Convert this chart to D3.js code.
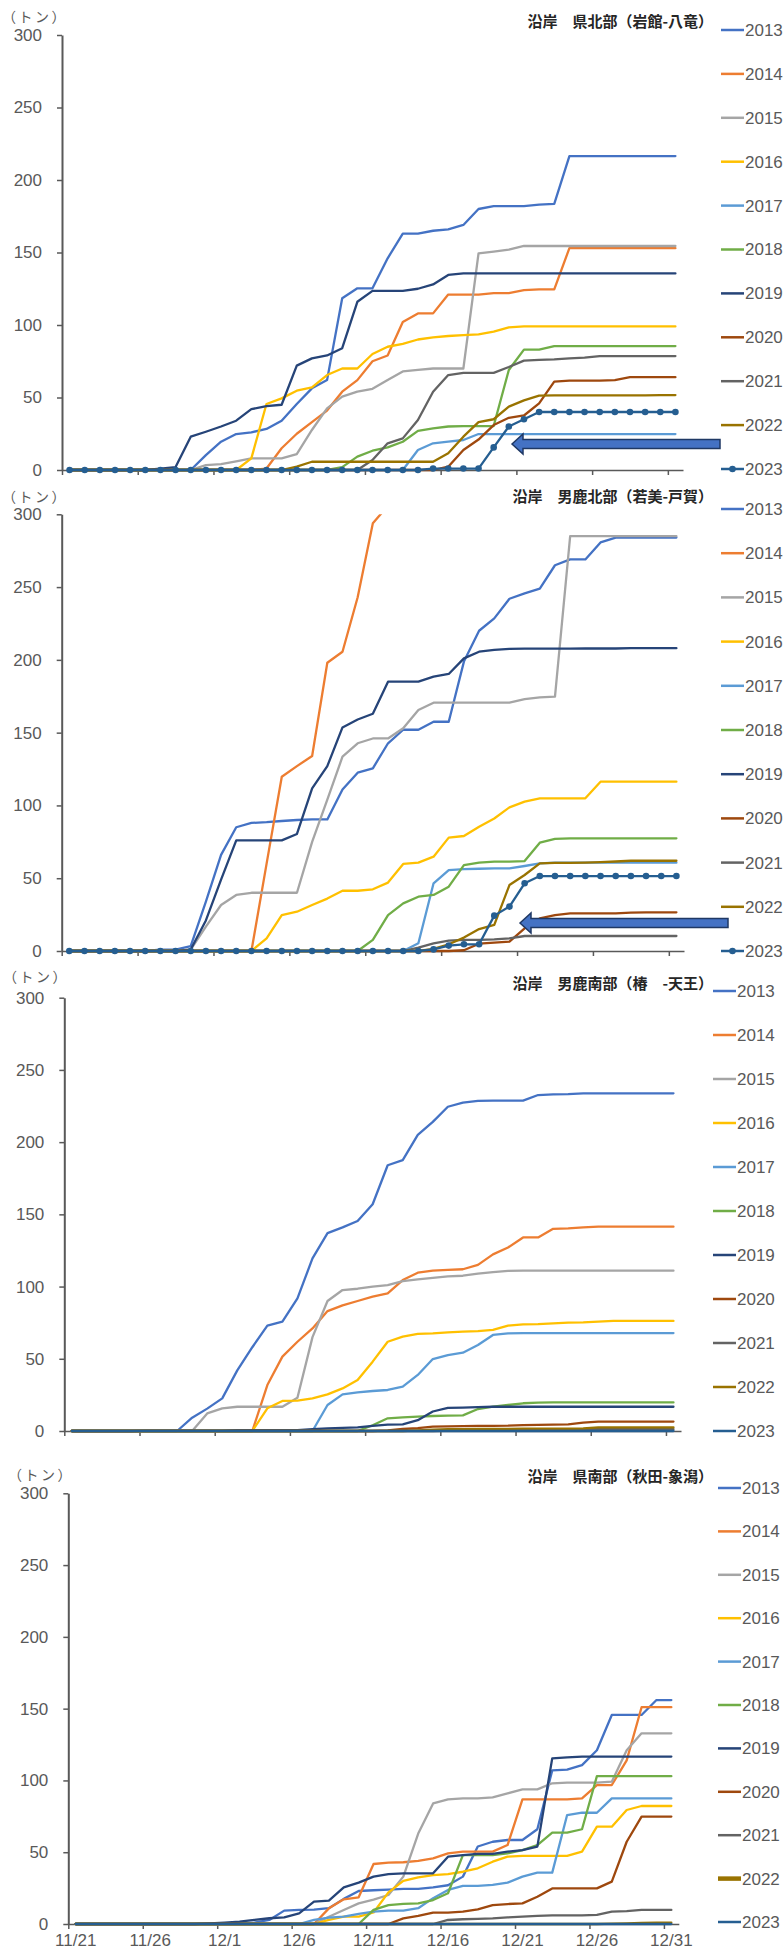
<!DOCTYPE html>
<html>
<head>
<meta charset="utf-8">
<script src="https://cdn.jsdelivr.net/npm/d3@7"></script>
<style>
html, body { margin: 0; padding: 0; background: #fff; }
svg { display: block; }
</style>
</head>
<body>
<svg id="chart" width="783" height="1951"></svg>
<script>
// Daily dates on the category axis (11/21 .. 12/31)
const dates = [
  "11/21","11/22","11/23","11/24","11/25","11/26","11/27","11/28","11/29","11/30",
  "12/1","12/2","12/3","12/4","12/5","12/6","12/7","12/8","12/9","12/10",
  "12/11","12/12","12/13","12/14","12/15","12/16","12/17","12/18","12/19","12/20",
  "12/21","12/22","12/23","12/24","12/25","12/26","12/27","12/28","12/29","12/30",
  "12/31"
];
const dateLabels = ["11/21","11/26","12/1","12/6","12/11","12/16","12/21","12/26","12/31"];
const years = ["2013","2014","2015","2016","2017","2018","2019","2020","2021","2022","2023"];
const yTicks = [0, 50, 100, 150, 200, 250, 300];

// Cumulative catch (t), one row per season 2013..2023
const kenHokubu = [
  [0,0,0,0,0,0,0,0,0,10.3, 19.5,24.8,26,28.3,34,45.5,56.3,62,118.4,125.3, 125.3,146,163,163,165,166,169,180,182,182, 182,183,183.5,216.5,216.5,216.5,216.5,216.5,216.5,216.5, 216.5],
  [0,0,0,0,0,0,0,0,0,0, 0,0,0,1,15,25,33,41,54,62, 75,79,102,108,108,121,121,121,122,122, 124,124.6,124.6,153,153,153,153,153,153,153, 153],
  [0,0,0,0,0,0,0,0,0,3.4, 4,6,8,8,8,11,27.6,42.5,50.6,54, 56,62,68,69,70,70,70,149.4,150.6,152, 154.5,154.5,154.5,154.5,154.5,154.5,154.5,154.5,154.5,154.5, 154.5],
  [0,0,0,0,0,0,0,0,0,0, 0,0,8,45.5,49.4,54.7,57,65.5,70,70, 80,85,87,90,91.5,92.4,93,93.6,95.4,98.4, 99,99,99,99,99,99,99,99,99,99, 99],
  [0,0,0,0,0,0,0,0,0,0, 0,0,0,0,0,0,0,0,0,0, 0,0,0,13.8,18.4,19.5,20.7,24.8,24.8,24.8, 24.8,24.8,24.8,24.8,24.8,24.8,24.8,24.8,24.8,24.8, 24.8],
  [0,0,0,0,0,0,0,0,0,0, 0,0,0,0,0,0,0,0,2,9.2, 13.3,15.6,19.5,27,28.7,30,30.3,30.3,30.3,69, 83,83,85.5,85.5,85.5,85.5,85.5,85.5,85.5,85.5, 85.5],
  [0,0,0,0,0,0,1,2,23,26.4, 30,34,42,44,45,72,77,79,84,116, 123.5,123.5,123.5,125,128,134.5,135.6,135.6,135.6,135.6, 135.6,135.6,135.6,135.6,135.6,135.6,135.6,135.6,135.6,135.6, 135.6],
  [0,0,0,0,0,0,0,0,0,0, 0,0,0,0,0,0,0,0,0,0, 0,0,0,0,0,2.3,13.8,21,31,36, 37.6,46,61,61.6,61.6,61.6,62,64,64,64, 64],
  [0,0,0,0,0,0,0,0,0,0, 0,0,0,0,0,0,0,0,0,0, 6.9,18.4,21.8,34.5,54,65.5,67,67,67,71, 75.4,76,76.3,77,77.5,78.6,78.6,78.6,78.6,78.6, 78.6],
  [0,0,0,0,0,0,0,0,0,0, 0,0,0,0,0,2.3,5.7,5.7,5.7,5.7, 5.7,5.7,5.7,5.7,5.7,11.5,23,33,35,43.7, 48,51.3,51.5,51.5,51.5,51.5,51.5,51.5,51.5,51.7, 51.7],
  [0,0,0,0,0,0,0,0,0,0, 0,0,0,0,0,0,0,0,0,0, 0,0,0,0,1,1,1,1,15.6,30, 35,40,40,40,40,40,40,40,40,40, 40]
];

const ogaHokubu = [
  [0,0,0,0,0,0,1,1,3.4,34, 66,85,88,88.5,89.3,90,90.4,90.4,111,122.5, 125.5,142.7,152,152,157.5,157.5,198.8,220,228.5,242, 245.7,249,265,269,269,280.7,284,284,284,284, 284],
  [0,0,0,0,0,0,0,0,0,0, 0,0,0,60,119.7,127,134,198,205.6,243, 293.8,306,null,null,null,null,null,null,null,null, null,null,null,null,null,null,null,null,null,null, null],
  [0,0,0,0,0,0,0,0,1,16.7, 31.6,38.5,40,40,40,40,75,104,133.5,142.7, 146,146,153,165.6,170.6,170.6,170.6,170.6,170.6,170.6, 173,174.3,174.7,285,285,285,285,285,285,285, 285],
  [0,0,0,0,0,0,0,0,0,0, 0,0,0,8.7,24.7,27,31.6,36,41.4,41.4, 42.4,47,59.8,60.7,64.8,77.9,79,85.4,91,98.7, 102.6,104.9,104.9,104.9,104.9,116.3,116.3,116.3,116.3,116.3, 116.3],
  [0,0,0,0,0,0,0,0,0,0, 0,0,0,0,0,0,0,0,0,0, 0,0,0,5.3,46.5,55.6,56.3,56.5,56.8,56.8, 58.4,60.2,60.7,60.7,60.7,60.7,60.7,60.7,60.7,60.7, 60.7],
  [0,0,0,0,0,0,0,0,0,0, 0,0,0,0,0,0,0,0,0,0, 7.6,24.7,32.7,37.3,38.5,44.2,59,60.7,61.4,61.4, 61.8,74.4,77,77.4,77.4,77.4,77.4,77.4,77.4,77.4, 77.4],
  [0,0,0,0,0,0,0,0,1,21, 49,76,76,76,76,80.4,111.7,127,153.6,159, 163,185,185,185,188.5,190.3,201,205.6,206.8,207.5, 207.7,207.7,207.7,207.7,207.8,207.8,207.8,208,208,208, 208],
  [0,0,0,0,0,0,0,0,0,0, 0,0,0,0,0,0,0,0,0,0, 0,0,0,0,0,0,0.5,5,5.7,6.4, 15.6,22.4,24.7,25.9,25.9,25.9,25.9,26.3,26.6,26.6, 26.6],
  [0,0,0,0,0,0,0,0,0,0, 0,0,0,0,0,0,0,0,0,0, 0,0,0,2.3,5.3,7.1,7.6,7.6,8,8.7, 10.3,10.3,10.3,10.3,10.3,10.3,10.3,10.3,10.3,10.3, 10.3],
  [0,0,0,0,0,0,0,0,0,0, 0,0,0,0,0,0,0,0,0,0, 0,0,0,0,1.4,4.6,9.2,15.1,17.9,45.3, 52.2,60.2,60.5,60.5,60.7,61,61.5,62,62,62, 62],
  [0,0,0,0,0,0,0,0,0,0, 0,0,0,0,0,0,0,0,0,0, 0,0,0,0,1.1,3.7,4.6,4.6,24.3,30.5, 46.5,51.5,51.5,51.5,51.5,51.5,51.5,51.5,51.5,51.5, 51.5]
];

const ogaNanbu = [
  [0,0,0,0,0,0,0,0,9.2,15.5, 22.6,42,58,73,75.7,91.8,119.5,137,141,145.4, 157,184,187.6,205,214,224.5,227.3,228.5,228.7,228.7, 228.7,232.6,233,233.2,233.8,233.8,233.8,233.8,233.8,233.8, 233.8],
  [0,0,0,0,0,0,0,0,0,0, 0,0,0,31.8,51.5,61.8,71,83,87,90, 93,95.3,104.5,109.6,111,111.5,112,115,122.3,127, 134,134,140,140.3,141,141.5,141.5,141.5,141.5,141.5, 141.5],
  [0,0,0,0,0,0,0,0,0,12.2, 15.7,16.8,16.8,16.8,16.8,23,65,90,97.6,98.5, 100,101,103.8,105,106,107,107.5,109,110,110.8, 111,111,111,111,111,111,111,111,111,111, 111],
  [0,0,0,0,0,0,0,0,0,0, 0,0,0,15.7,20.8,21,22.6,25.4,29.5,35.3, 48,61.8,65.3,67.2,67.6,68.3,68.8,69.2,70,73, 73.8,74,74.5,75,75.2,75.7,76.2,76.2,76.2,76.2, 76.2],
  [0,0,0,0,0,0,0,0,0,0, 0,0,0,0,0,0,0,18,25.4,26.8, 27.7,28.4,30.7,38.8,49.8,52.6,54.2,59.5,66.5,67.6, 67.8,67.8,67.8,67.8,67.8,67.8,67.8,67.8,67.8,67.8, 67.8],
  [0,0,0,0,0,0,0,0,0,0, 0,0,0,0,0,0,0,0,0,0, 4,8.8,9.5,10,10.4,10.6,10.8,15.2,16.8,18, 19.2,19.6,19.8,19.8,19.8,19.8,19.8,19.8,19.8,19.8, 19.8],
  [0,0,0,0,0,0.3,0.3,0.3,0.3,0.3, 0.3,0.6,0.6,0.6,0.6,0.6,1.2,1.8,2.2,2.5, 3.5,4.4,4.6,7.5,13.5,16,16.2,16.5,16.8,16.8, 16.8,16.8,16.8,16.8,16.8,16.8,16.8,16.8,16.8,16.8, 16.8],
  [0,0,0,0,0,0,0,0,0,0, 0,0,0,0,0,0,0,0,0,0, 0,0.5,1.4,2,3,3.2,3.4,3.5,3.6,3.7, 4.1,4.2,4.4,4.6,5.8,6.5,6.5,6.5,6.5,6.5, 6.5],
  [0,0,0,0,0,0,0,0,0,0, 0,0,0,0,0,0,0,0,0,0, 0,0,0,0,0,0.3,0.5,0.7,0.8,0.9, 1,1.2,1.2,1.2,1.2,1.2,1.2,1.2,1.2,1.2, 1.2],
  [0,0,0,0,0,0,0,0,0,0, 0,0,0,0,0,0,0,0,0,0, 0,0,0,0.5,1,1.2,1.3,1.4,1.5,1.5, 1.6,1.6,1.7,1.7,1.8,2.5,2.5,2.5,2.5,2.5, 2.5],
  [0,0,0,0,0,0,0,0,0,0, 0,0,0,0,0,0,0,0,0,0, 0,0,0,0,0,0,0,0,0,0, 0,0,0,0,0,0,0,0,0,0, 0]
];

const kenNanbu = [
  [0,0,0,0,0,0,0,0,0,0.3, 0.5,0.8,1,2.8,9.3,9.8,10,11,17.5,23, 23.5,24,24.4,24.4,25.5,27,33,54,57.3,58.5, 58.5,66,107,107.5,110.7,121,145.6,145.6,145.6,156, 156],
  [0,0,0,0,0,0,0,0,0,0, 0,0,0,0,0,0,0,10.9,17.2,18.6, 41.8,42.7,43,44,45.7,49.2,50.4,50.4,50.4,55, 86.8,86.8,86.8,86.8,87.5,96.8,96.8,114,151,151, 151],
  [0,0,0,0,0,0,0,0,0,0, 0,0,0,0,0,0,0,5.1,9.8,14.4, 17,20.2,33,63,84,86.8,87.5,87.5,88.2,91, 93.8,93.8,98,98.5,98.5,98.5,99.1,121,132.8,132.8, 132.8],
  [0,0,0,0,0,0,0,0,0,0, 0,0,0,0,0,0,0,2.8,5.1,5.1, 8,22,30,32.5,34,34.8,36.4,38.8,43.4,46.9, 47.4,47.4,47.4,47.4,50.4,67.8,67.8,79.4,82.2,82.2, 82.2],
  [0,0,0,0,0,0,0,0,0,0, 0,0,0,0,0,0,2.8,4.5,5.1,7, 8.6,9.3,9.3,11,18,23.7,26.5,26.5,27.2,28.8, 33,35.8,35.8,75.9,77.5,77.5,87.5,87.5,87.5,87.5, 87.5],
  [0,0,0,0,0,0,0,0,0,0, 0,0,0,0,0,0,0,0,0,0, 9.8,13.2,14,14.4,16.7,21.4,48,48,48,49.2, 51.5,55,63.6,63.6,66,103,103,103,103,103, 103],
  [0,0,0,0,0,0,0,0,0,0.5, 1,1.6,2.8,4,4.6,7.4,15.6,16.3,25.5,28.8, 33,34.8,35.3,35.3,35.3,46.9,48,48.8,48.8,50.4, 51.5,53.9,115.4,116,116.6,116.6,116.6,116.6,116.6,116.6, 116.6],
  [0,0,0,0,0,0,0,0,0,0, 0,0,0,0,0,0,0,0,0,0, 0,0,3.9,5.6,7.9,7.9,8.6,10.2,13.2,13.9, 14.4,19,24.8,24.8,24.8,24.8,29.5,57.3,74.8,74.8, 74.8],
  [0,0,0,0,0,0,0,0,0,0, 0,0,0,0,0,0,0,0,0,0, 0,0,0,0,0,2.8,3.3,3.5,3.9,4.6, 5.1,5.6,6,6,6,6.3,8.6,9,9.8,9.8, 9.8],
  [0,0,0,0,0,0,0,0,0,0, 0,0,0,0,0,0,0,0,0,0, 0,0,0,0,0,0,0,0,0,0, 0,0,0,0,0,0,0.3,0.5,0.8,1, 1],
  [0,0,0,0,0,0,0,0,0,0, 0,0,0,0,0,0,0,0,0,0, 0,0,0,0,0,0,0,0,0,0, 0,0,0,0,0,0,0,0,0,0, 0]
];

// Series colours (2013 .. 2023)
const colors = ["#4472C4","#ED7D31","#A5A5A5","#FFC000","#5B9BD5","#70AD47",
                "#264478","#9E480E","#636363","#997300","#255E91"];

const panels = [
  { title: "沿岸　県北部（岩館-八竜）", data: kenHokubu,
    x0: 62, x1: 683, yTop: 35, yBot: 470, titleY: 22, unitX: 35, unitY: 17,
    legendX: 721, legendY: 30, legendStep: 43.9, markers: true,
    arrow: { tip: 512, y: 444, end: 720 } },
  { title: "沿岸　男鹿北部（若美-戸賀）", data: ogaHokubu,
    x0: 61.7, x1: 684, yTop: 514.3, yBot: 951, titleY: 497, unitX: 35, unitY: 497,
    legendX: 721, legendY: 509, legendStep: 44.2, markers: true,
    arrow: { tip: 520, y: 923, end: 728 } },
  { title: "沿岸　男鹿南部（椿　-天王）", data: ogaNanbu,
    x0: 64.3, x1: 681, yTop: 997.7, yBot: 1431, titleY: 984, unitX: 36, unitY: 977,
    legendX: 713, legendY: 991, legendStep: 44, markers: false },
  { title: "沿岸　県南部（秋田-象潟）", data: kenNanbu,
    x0: 68.3, x1: 678.8, yTop: 1493.3, yBot: 1924, titleY: 1477, unitX: 41, unitY: 1475,
    legendX: 718, legendY: 1488, legendStep: 43.4, markers: false, dateAxis: true,
    boldLegend: 9 }
];

const numFont = "'Liberation Sans Narrow', 'Arial Narrow', 'Liberation Sans', sans-serif";
const jpFont = "'Noto Sans CJK JP', 'Noto Sans', sans-serif";
const axisColor = "#595959";
const textColor = "#595959";

const svg = d3.select("#chart");
const defs = svg.append("defs");

panels.forEach((p, pi) => {
  const g = svg.append("g");
  const x = d3.scaleBand().domain(dates).range([p.x0, p.x1]).padding(0);
  const cx = d => x(d) + x.bandwidth() / 2;
  const y = d3.scaleLinear().domain([0, 300]).range([p.yBot, p.yTop]);
  const xEdge = d3.scaleLinear().domain([0, dates.length]).range([p.x0, p.x1]);

  const clipId = "plot-clip-" + pi;
  defs.append("clipPath").attr("id", clipId)
    .append("rect")
    .attr("x", p.x0 - 6).attr("y", p.yTop)
    .attr("width", p.x1 - p.x0 + 12).attr("height", p.yBot - p.yTop + 8);

  // x axis: baseline with tick marks every five days on category boundaries
  g.append("g")
    .attr("transform", `translate(0,${p.yBot})`)
    .call(d3.axisBottom(xEdge).tickValues(d3.range(0, dates.length, 5))
      .tickSize(5).tickSizeOuter(0).tickFormat(""))
    .call(s => s.select(".domain").attr("stroke", axisColor).attr("stroke-width", 1.5))
    .call(s => s.selectAll(".tick line").attr("stroke", axisColor).attr("stroke-width", 1.5));

  if (p.dateAxis) {
    g.append("g")
      .attr("transform", `translate(0,${p.yBot})`)
      .call(d3.axisBottom(x).tickValues(dateLabels).tickSize(0).tickPadding(10))
      .call(s => s.select(".domain").remove())
      .call(s => s.selectAll(".tick text")
        .attr("fill", textColor)
        .style("font-family", numFont).style("font-size", "17px"));
  }

  // y axis
  g.append("g")
    .attr("transform", `translate(${p.x0},0)`)
    .call(d3.axisLeft(y).tickValues(yTicks).tickSize(5).tickSizeOuter(0).tickPadding(15))
    .call(s => s.select(".domain").attr("stroke", axisColor).attr("stroke-width", 2))
    .call(s => s.selectAll(".tick line").attr("stroke", axisColor).attr("stroke-width", 1.5))
    .call(s => s.selectAll(".tick text")
      .attr("fill", textColor)
      .style("font-family", numFont).style("font-size", "17px"));

  // unit label
  g.append("text")
    .attr("x", p.unitX).attr("y", p.unitY).attr("dy", "0.35em")
    .attr("text-anchor", "middle")
    .attr("fill", textColor)
    .style("font-family", jpFont).style("font-size", "14px")
    .style("letter-spacing", "2.5px")
    .text("（トン）");

  // panel title
  g.append("text")
    .attr("x", 713).attr("y", p.titleY).attr("dy", "0.35em")
    .attr("text-anchor", "end")
    .attr("fill", "#262626")
    .style("font-family", jpFont).style("font-size", "15px").style("font-weight", 700)
    .text(p.title);

  // cumulative lines
  const line = d3.line()
    .defined(v => v != null)
    .x((v, i) => cx(dates[i]))
    .y(v => y(v));

  const plot = g.append("g").attr("clip-path", `url(#${clipId})`);
  p.data.forEach((vals, k) => {
    plot.append("path")
      .datum(vals)
      .attr("d", line)
      .attr("fill", "none")
      .attr("stroke", colors[k])
      .attr("stroke-width", 2.3)
      .attr("stroke-linejoin", "round")
      .attr("stroke-linecap", "round");
  });

  if (p.markers) {
    const last = p.data.length - 1;
    plot.selectAll("circle.mk")
      .data(p.data[last].map((v, i) => ({ v, d: dates[i] })).filter(o => o.v != null))
      .join("circle")
      .attr("class", "mk")
      .attr("cx", o => cx(o.d))
      .attr("cy", o => y(o.v))
      .attr("r", 3.3)
      .attr("fill", colors[last]);
  }

  // legend
  years.forEach((yr, k) => {
    const ly = p.legendY + k * p.legendStep;
    g.append("line")
      .attr("x1", p.legendX).attr("x2", p.legendX + 23)
      .attr("y1", ly).attr("y2", ly)
      .attr("stroke", colors[k])
      .attr("stroke-width", p.boldLegend === k ? 4.5 : 2.5);
    if (p.markers && k === years.length - 1) {
      g.append("circle")
        .attr("cx", p.legendX + 11.5).attr("cy", ly).attr("r", 3.3)
        .attr("fill", colors[k]);
    }
    g.append("text")
      .attr("x", p.legendX + 24).attr("y", ly).attr("dy", "0.35em")
      .attr("fill", textColor)
      .style("font-family", numFont).style("font-size", "17px")
      .text(yr);
  });

  // pointer arrow toward the 2023 line
  if (p.arrow) {
    const a = p.arrow;
    const headLen = 11, headHalf = 10, bodyHalf = 4.5;
    const path = d3.path();
    path.moveTo(a.tip, a.y);
    path.lineTo(a.tip + headLen, a.y - headHalf);
    path.lineTo(a.tip + headLen, a.y - bodyHalf);
    path.lineTo(a.end, a.y - bodyHalf);
    path.lineTo(a.end, a.y + bodyHalf);
    path.lineTo(a.tip + headLen, a.y + bodyHalf);
    path.lineTo(a.tip + headLen, a.y + headHalf);
    path.closePath();
    g.append("path")
      .attr("d", path.toString())
      .attr("fill", "#4472C4")
      .attr("stroke", "#1F3864")
      .attr("stroke-width", 1.5)
      .attr("stroke-linejoin", "miter");
  }
});
</script>
</body>
</html>
